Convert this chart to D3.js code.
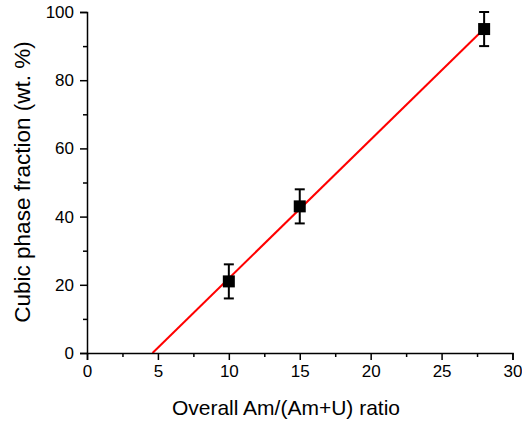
<!DOCTYPE html>
<html><head><meta charset="utf-8">
<script src="https://cdn.jsdelivr.net/npm/d3@7"></script>
<style>body{margin:0;background:#fff}svg{display:block}text{font-family:"Liberation Sans",Arial,sans-serif}</style>
</head><body>
<script>
const ratio = [10, 15, 28];
const fraction = [21, 43, 95];
const errors = [5, 5, 5];
const fitX = [4.62, 28];
const fitY = [0, 95.1];
const xTicks = [0, 5, 10, 15, 20, 25, 30];
const yTicks = [0, 20, 40, 60, 80, 100];

const W = 522, H = 423;
const svg = d3.select("body").append("svg").attr("width", W).attr("height", H);
const x = d3.scaleLinear().domain([0, 30]).range([87, 512.5]);
const y = d3.scaleLinear().domain([0, 100]).range([353, 12]);

// fit line
svg.append("path")
  .attr("d", d3.line().x(d => x(d[0])).y(d => y(d[1]))(fitX.map((v, i) => [v, fitY[i]])))
  .attr("stroke", "#ff0000").attr("stroke-width", 2).attr("fill", "none");

// axes
svg.append("g").attr("transform", `translate(0,${y(0)})`)
  .call(d3.axisBottom(x).tickValues(xTicks).tickFormat(d3.format("d")).tickSize(7).tickPadding(5));
svg.append("g").attr("transform", `translate(0,${y(0)})`)
  .call(d3.axisBottom(x).tickValues(d3.range(2.5, 30, 5)).tickFormat("").tickSize(4))
  .select(".domain").remove();
svg.append("g").attr("transform", `translate(${x(0)},0)`)
  .call(d3.axisLeft(y).tickValues(yTicks).tickFormat(d3.format("d")).tickSize(7).tickPadding(6));
svg.append("g").attr("transform", `translate(${x(0)},0)`)
  .call(d3.axisLeft(y).tickValues(d3.range(10, 100, 20)).tickFormat("").tickSize(4))
  .select(".domain").remove();
svg.selectAll(".domain").attr("stroke", "#000").attr("stroke-width", 1.5);
svg.selectAll(".tick line").attr("stroke", "#000").attr("stroke-width", 1.5);
svg.selectAll(".tick text").attr("font-size", 17).attr("fill", "#000")
  .style("font-family", '"Liberation Sans",Arial,sans-serif');

// error bars
const eb = svg.append("g").attr("stroke", "#000").attr("stroke-width", 2);
ratio.forEach((r, i) => {
  const cx = x(r), yt = y(fraction[i] + errors[i]), yb = y(fraction[i] - errors[i]);
  eb.append("line").attr("x1", cx).attr("x2", cx).attr("y1", yt).attr("y2", yb);
  eb.append("line").attr("x1", cx - 5).attr("x2", cx + 5).attr("y1", yt).attr("y2", yt);
  eb.append("line").attr("x1", cx - 5).attr("x2", cx + 5).attr("y1", yb).attr("y2", yb);
});
// markers
svg.selectAll("rect.pt").data(ratio).enter().append("rect")
  .attr("x", d => x(d) - 6).attr("y", (d, i) => y(fraction[i]) - 6)
  .attr("width", 12).attr("height", 12).attr("fill", "#000");

// titles
svg.append("text").attr("x", 286).attr("y", 415).attr("text-anchor", "middle")
  .attr("font-size", 21).text("Overall Am/(Am+U) ratio");
svg.append("text").attr("transform", `translate(30,182) rotate(-90)`)
  .attr("text-anchor", "middle").attr("font-size", 22.5).text("Cubic phase fraction (wt. %)");
</script>
</body></html>
